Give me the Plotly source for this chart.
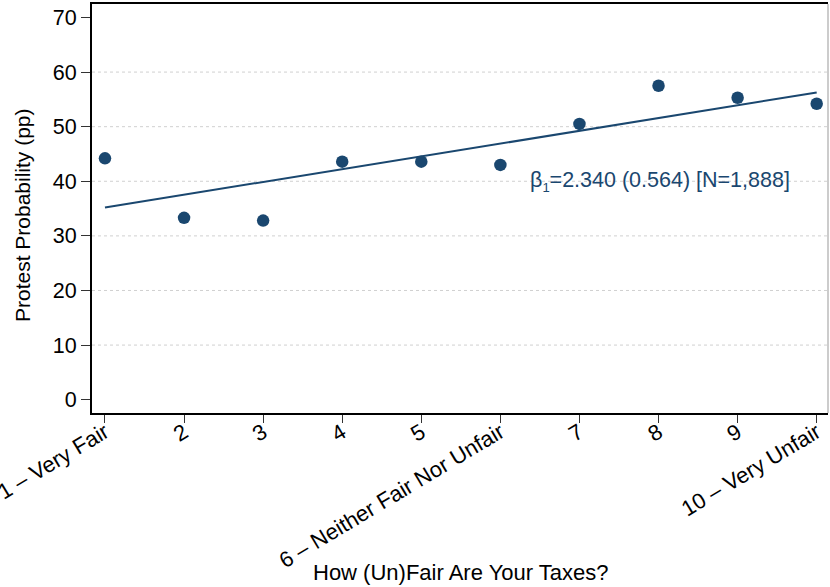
import plotly.graph_objects as go

# ---- data ----
x_values = [1, 2, 3, 4, 5, 6, 7, 8, 9, 10]
protest_prob = [44.2, 33.3, 32.8, 43.6, 43.6, 43.0, 50.5, 57.5, 55.3, 54.2]
tick_labels = ["1 – Very Fair", "2", "3", "4", "5", "6 – Neither Fair Nor Unfair",
               "7", "8", "9", "10 – Very Unfair"]
y_ticks = [0, 10, 20, 30, 40, 50, 60, 70]
grid_values = [10, 20, 30, 40, 50, 60]
fit_intercept = 32.86
fit_slope = 2.340
annotation_text = "β<sub><span style='font-size:13px'>1</span></sub>=2.340 (0.564) [N=1,888]"
x_title = "How (Un)Fair Are Your Taxes?"
y_title = "Protest Probability (pp)"

NAVY = "#1a476f"
FONT = "Liberation Sans, Arial, Helvetica, sans-serif"

fit_x = [x_values[0], x_values[-1]]
fit_y = [fit_intercept + fit_slope * v for v in fit_x]

fig = go.Figure()
fig.add_trace(go.Scatter(x=fit_x, y=fit_y, mode="lines",
                         line=dict(color=NAVY, width=2), showlegend=False,
                         hoverinfo="skip"))
fig.add_trace(go.Scatter(x=x_values, y=protest_prob, mode="markers",
                         marker=dict(color=NAVY, size=12.5), showlegend=False))

shapes = []
for g in grid_values:
    shapes.append(dict(type="line", xref="paper", x0=0, x1=1, yref="y", y0=g, y1=g,
                       line=dict(color="#d0d0d0", width=1, dash="dot"), layer="below"))
# right frame border (thin gray)
shapes.append(dict(type="line", xref="paper", x0=1, x1=1, yref="paper", y0=0, y1=1,
                   line=dict(color="#999999", width=1)))

fig.update_layout(
    width=830, height=587,
    margin=dict(l=92, r=2, t=4, b=174, autoexpand=False),
    paper_bgcolor="white", plot_bgcolor="white",
    font=dict(family=FONT, size=21, color="black"),
    shapes=shapes,
    xaxis=dict(
        range=[0.836, 10.143], tickmode="array", tickvals=x_values, ticktext=tick_labels,
        tickangle=-31, ticks="outside", ticklen=8, tickwidth=1, tickcolor="#333333",
        showline=True, linecolor="black", linewidth=2, mirror=True,
        showgrid=False, zeroline=False, automargin=False,
        ticklabeloverflow="allow", ticklabelstandoff=-12,
        tickfont=dict(size=22),
    ),
    yaxis=dict(
        range=[-2.44, 72.47], tickmode="array", tickvals=y_ticks,
        ticks="outside", ticklen=9, tickwidth=1, tickcolor="#333333",
        showline=True, linecolor="black", linewidth=2,
        showgrid=False, zeroline=False, automargin=False,
        ticklabelstandoff=0,
        tickfont=dict(size=21.5),
    ),
    annotations=[
        dict(x=6.35, y=39.9, xref="x", yref="y", text=annotation_text,
             showarrow=False, xanchor="left", yanchor="middle",
             font=dict(color=NAVY, size=21.5)),
        dict(x=0.501, y=-0.389, xref="paper", yref="paper", text=x_title,
             showarrow=False, xanchor="center", yanchor="middle",
             font=dict(size=22)),
        dict(x=-0.0951, y=0.484, xref="paper", yref="paper", text=y_title,
             showarrow=False, xanchor="center", yanchor="middle", textangle=-90,
             font=dict(size=21)),
    ],
)

fig.write_html("out.html", config={"displayModeBar": False},
               post_script="document.body.style.margin='0';document.body.style.overflow='hidden';")
